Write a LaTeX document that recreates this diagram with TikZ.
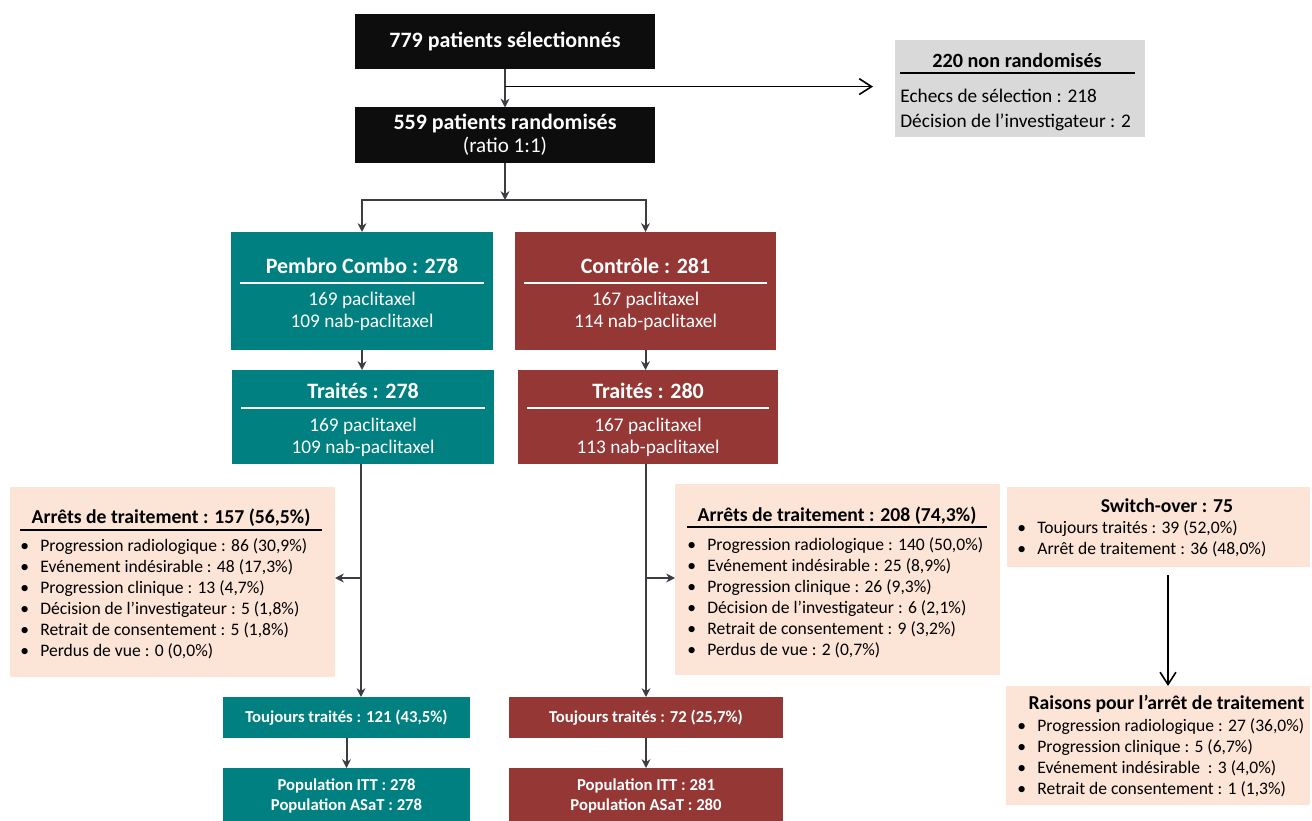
\documentclass[tikz,border=0pt]{standalone}
\usepackage{fontspec}
\setmainfont{Carlito}
\usetikzlibrary{positioning,arrows.meta,calc}

\newdimen\pxu \pxu=0.02cm
\definecolor{boxblack}{RGB}{13,13,13}
\definecolor{combo}{RGB}{0,128,128}
\definecolor{ctrl}{RGB}{149,55,53}
\definecolor{peach}{RGB}{252,228,214}
\definecolor{nonrand}{RGB}{217,217,217}
\definecolor{flow}{RGB}{60,60,66}
\newcommand\bul[1]{\makebox[20\pxu][l]{\textbullet}#1}
\newcommand\apos{\symbol{"0027}}

\begin{document}
\begin{tikzpicture}[
    x=0.02cm, y=-0.02cm,
    box/.style={inner sep=0pt, outer sep=0pt},
    blackbox/.style={box, fill=boxblack, minimum width=300\pxu, minimum height=55\pxu},
    combobox/.style={box, fill=combo},
    ctrlbox/.style={box, fill=ctrl},
    peachbox/.style={box, fill=peach},
    greybox/.style={box, fill=nonrand},
    headw/.style={inner sep=0pt, text=white, font=\fontsize{12.5}{15}\selectfont\bfseries},
    bodyw/.style={inner sep=0pt, text=white, align=center, font=\fontsize{11}{12.5}\selectfont},
    smallw/.style={text=white, align=center, font=\fontsize{9.5}{11.3}\selectfont\bfseries},
    listhead/.style={inner sep=0pt, font=\fontsize{11.2}{13}\selectfont\bfseries},
    item/.style={anchor=west, inner sep=0pt, text height=7pt, text depth=2pt, font=\fontsize{10}{12}\selectfont},
    rulew/.style={white, line width=1.5\pxu},
    rulek/.style={black, line width=1.5\pxu},
    flowline/.style={draw=flow, line width=2\pxu},
    flowarrow/.style={flowline, -{Stealth[length=5pt,width=5pt]}},
    thinarrow/.style={black, line width=1.6\pxu, -{Straight Barb[length=7pt,width=9pt]}}
]
    \useasboundingbox (0,0) rectangle (1312,821);

    % screening and randomisation
    \node[blackbox, text=white, font=\fontsize{12.5}{15}\selectfont\bfseries] (sel) at (505,42) {779 patients sélectionnés};
    \node[blackbox, text=white, align=center, minimum height=55\pxu] (rand) at (505,135)
        {{\fontsize{12.5}{15}\selectfont\bfseries 559 patients randomisés}\\[1pt]{\fontsize{12}{14}\selectfont (ratio 1:1)}};
    \draw[flowarrow] (sel) -- (rand);

    % non randomised patients
    \node[greybox, minimum width=250\pxu, minimum height=97\pxu] (nonrand) at (1020,88.5) {};
    \node[inner sep=0pt, font=\fontsize{11.5}{14}\selectfont\bfseries] (nonrandhead) at (1017,60) {220 non randomisés};
    \draw[rulek] (900,73) -- (1135,73);
    \node[anchor=west, inner sep=0pt, align=left, font=\fontsize{11}{14.2}\selectfont] (nonrandbody) at (900,109.5)
        {Echecs de sélection : 218\\Décision de l\apos investigateur : 2};
    \coordinate (brnr) at ($(sel.south)!0.45!(rand.north)$);
    \draw[thinarrow, shorten >=22\pxu] (brnr) -- (brnr -| nonrand.west);

    % arms
    \node[combobox, minimum width=262\pxu, minimum height=118\pxu] (pembro) at (362,291) {};
    \node[ctrlbox, minimum width=261\pxu, minimum height=118\pxu] (ctrlarm) at (645.5,291) {};
    \coordinate (split) at (505,200);
    \draw[flowarrow] (rand) -- (split);
    \draw[flowarrow] (split) -| (pembro);
    \draw[flowarrow] (split) -| (ctrlarm);
    \node[headw] (pembrohead) at (362,266) {Pembro Combo : 278};
    \draw[rulew] (240,283) -- (484,283);
    \node[bodyw] (pembrobody) at (362,311) {169 paclitaxel\\109 nab-paclitaxel};
    \node[headw] (ctrlhead) at (645.5,266) {Contrôle : 281};
    \draw[rulew] (524,283) -- (767,283);
    \node[bodyw] (ctrlbody) at (645.5,311) {167 paclitaxel\\114 nab-paclitaxel};

    % treated
    \node[combobox, minimum width=262\pxu, minimum height=94\pxu] (trtA) at (363,417) {};
    \node[ctrlbox, minimum width=260\pxu, minimum height=94\pxu] (trtB) at (648,417) {};
    \draw[flowarrow] (pembro.south) -- (pembro.south |- trtA.north);
    \draw[flowarrow] (ctrlarm.south) -- (ctrlarm.south |- trtB.north);
    \node[headw] (trtAhead) at (363,391) {Traités : 278};
    \draw[rulew] (241,408) -- (485,408);
    \node[bodyw] (trtAbody) at (363,437) {169 paclitaxel\\109 nab-paclitaxel};
    \node[headw] (trtBhead) at (648,391) {Traités : 280};
    \draw[rulew] (527,408) -- (769,408);
    \node[bodyw] (trtBbody) at (648,437) {167 paclitaxel\\113 nab-paclitaxel};

    % still treated and populations
    \node[combobox, smallw, minimum width=247\pxu, minimum height=41\pxu] (toujA) at (346.5,717.5) {Toujours traités : 121 (43,5\%)};
    \node[ctrlbox, smallw, minimum width=274\pxu, minimum height=41\pxu] (toujB) at (646,717.5) {Toujours traités : 72 (25,7\%)};
    \node[combobox, smallw, minimum width=247\pxu, minimum height=56\pxu] (popA) at (346.5,796) {Population ITT : 278\\Population ASaT : 278};
    \node[ctrlbox, smallw, minimum width=274\pxu, minimum height=56\pxu] (popB) at (646,796) {Population ITT : 281\\Population ASaT : 280};
    \coordinate (vA) at (361,464);
    \coordinate (vB) at (646,464);
    \draw[flowarrow] (vA) -- (vA |- toujA.north);
    \draw[flowarrow] (vB) -- (vB |- toujB.north);
    \draw[flowarrow] (toujA) -- (popA);
    \draw[flowarrow] (toujB) -- (popB);

    % discontinuations
    \node[peachbox, minimum width=325\pxu, minimum height=190\pxu] (arretsA) at (172.5,582) {};
    \node[peachbox, minimum width=325\pxu, minimum height=191\pxu] (arretsB) at (837.5,579.5) {};
    \coordinate (brA) at (361,578);
    \coordinate (brB) at (646,578);
    \draw[flowarrow] (brA) -- (brA -| arretsA.east);
    \draw[flowarrow] (brB) -- (brB -| arretsB.west);
    \node[listhead] (arretsAhead) at (171,518) {Arrêts de traitement : 157 (56,5\%)};
    \draw[rulek] (20,530) -- (322,530);
    \foreach \t [count=\i from 0] in {{Progression radiologique : 86 (30,9\%)}, {Evénement indésirable : 48 (17,3\%)},
        {Progression clinique : 13 (4,7\%)}, {Décision de l\apos investigateur : 5 (1,8\%)},
        {Retrait de consentement : 5 (1,8\%)}, {Perdus de vue : 0 (0,0\%)}}
        \node[item] (arA-\i) at (20,{547+21*\i}) {\bul{\t}};
    \node[listhead] (arretsBhead) at (837,516) {Arrêts de traitement : 208 (74,3\%)};
    \draw[rulek] (687,527) -- (987,527);
    \foreach \t [count=\i from 0] in {{Progression radiologique : 140 (50,0\%)}, {Evénement indésirable : 25 (8,9\%)},
        {Progression clinique : 26 (9,3\%)}, {Décision de l\apos investigateur : 6 (2,1\%)},
        {Retrait de consentement : 9 (3,2\%)}, {Perdus de vue : 2 (0,7\%)}}
        \node[item] (arB-\i) at (687,{546+21*\i}) {\bul{\t}};

    % switch-over
    \node[peachbox, minimum width=303\pxu, minimum height=80\pxu] (switch) at (1158.5,527) {};
    \node[listhead] (switchhead) at (1167,506) {Switch-over : 75};
    \foreach \t [count=\i from 0] in {{Toujours traités : 39 (52,0\%)}, {Arrêt de traitement : 36 (48,0\%)}}
        \node[item] (sw-\i) at (1017,{529+21*\i}) {\bul{\t}};
    \node[peachbox, minimum width=304\pxu, minimum height=119\pxu] (raisons) at (1158,745.5) {};
    \node[listhead] (raisonshead) at (1166.5,704) {Raisons pour l\apos arrêt de traitement};
    \foreach \t [count=\i from 0] in {{Progression radiologique : 27 (36,0\%)}, {Progression clinique : 5 (6,7\%)},
        {Evénement indésirable~ : 3 (4,0\%)}, {Retrait de consentement : 1 (1,3\%)}}
        \node[item] (ra-\i) at (1017,{727+21*\i}) {\bul{\t}};
    \coordinate (swdown) at ($(switch.south)+(9.5,8)$);
    \draw[thinarrow] (swdown) -- (swdown |- raisons.north);
\end{tikzpicture}
\end{document}
